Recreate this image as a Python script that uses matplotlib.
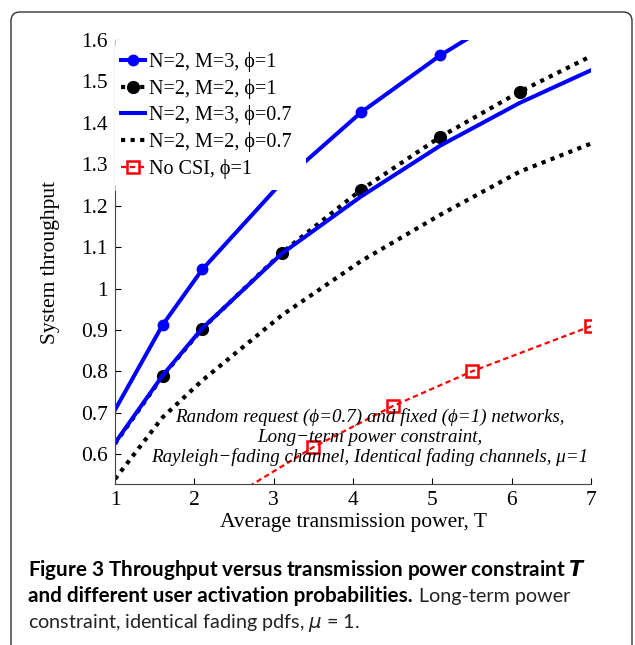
import matplotlib
matplotlib.use("Agg")
from matplotlib import pyplot as plt
from matplotlib.patches import FancyBboxPatch, Rectangle
import matplotlib.ticker as mticker

# transmission power values where the curves were computed
T = [1, 1.6, 2.1, 3.1, 4.1, 5.1, 6.1, 7]
m3_phi1 = [0.707, 0.912, 1.046, 1.256, 1.425, 1.563, 1.68, 1.78]
m2_phi1 = [0.625, 0.788, 0.903, 1.086, 1.238, 1.366, 1.475, 1.561]
m3_phi07 = [0.627, 0.790, 0.904, 1.084, 1.222, 1.345, 1.448, 1.527]
m2_phi07 = [0.540, 0.689, 0.778, 0.935, 1.066, 1.178, 1.282, 1.350]

T_nocsi = [2.5, 3.5, 4.5, 5.5, 7]
nocsi_phi1 = [0.50, 0.617, 0.716, 0.800, 0.909]

labels = ["N=2, M=3, \u03d5=1", "N=2, M=2, \u03d5=1", "N=2, M=3, \u03d5=0.7",
          "N=2, M=2, \u03d5=0.7", "No CSI, \u03d5=1"]
yticks = [0.6, 0.7, 0.8, 0.9, 1.0, 1.1, 1.2, 1.3, 1.4, 1.5, 1.6]

serif = ["Liberation Serif", "DejaVu Serif"]
plt.rcParams['font.family'] = serif
plt.rcParams['mathtext.fontset'] = 'dejavusans'

fig = plt.figure(figsize=(6.35, 6.45), dpi=100)
ax = fig.add_axes([115/635, 1-484/645, (591-115)/635, (484-40)/645])

mk = [1, 2, 3, 4, 5, 6]
ax.plot(T, m3_phi1, color='#0000ff', lw=2.9, marker='o', ms=7.5, markevery=mk, label=labels[0])
ax.plot(T, m2_phi1, color='black', lw=3, dashes=(1, 1.3), dash_capstyle='butt',
        marker='o', ms=8.5, markevery=mk, label=labels[1])
ax.plot(T, m3_phi07, color='#0000ff', lw=2.9, label=labels[2])
ax.plot(T, m2_phi07, color='black', lw=3, dashes=(1, 1.3), dash_capstyle='butt', label=labels[3])
ax.plot(T_nocsi, nocsi_phi1, color='red', lw=1.6, dashes=(2.4, 1.6), marker='s', ms=8,
        mfc='none', mew=1.8, label=labels[4])

ax.set_xlim(1, 7)
ax.set_ylim(0.528, 1.6)
ax.set_xticks(range(1, 8))
ax.set_yticks(yticks)
ax.yaxis.set_major_formatter(mticker.FormatStrFormatter('%g'))
ax.tick_params(direction='in', length=4, labelsize=15.5, width=0.8, pad=5)
for s in ['top', 'right']:
    ax.spines[s].set_visible(False)
for s in ['left', 'bottom']:
    ax.spines[s].set_color('#444444')

ax.set_xlabel("Average transmission power, T", fontsize=15.5, labelpad=2)
ax.set_ylabel("System throughput", fontsize=15.5, labelpad=15)

leg = ax.legend(loc='upper left', bbox_to_anchor=(0.0, 1.0 - 6/444), borderaxespad=0.0, fontsize=14.5,
                frameon=True, framealpha=1, edgecolor='none', fancybox=False,
                handlelength=1.2, handletextpad=0.2, labelspacing=0.33, borderpad=0.3)
# white block behind the legend, like the matlab legend box
ax.add_patch(Rectangle((0, 1 - 150/444), (306-115)/476, 150/444, transform=ax.transAxes,
                       facecolor='white', edgecolor='none', zorder=4, clip_on=False))
ax.plot([0, 0], [1 - 150/444, 1], transform=ax.transAxes, color='#bbbbbb', lw=0.6,
        zorder=4.5, clip_on=False)

ax.text(0.535, 0.105, "Random request (\u03d5=0.7) and fixed (\u03d5=1) networks,\n"
        "Long\u2212term power constraint,\n"
        "Rayleigh\u2212fading channel, Identical fading channels, \u03bc=1",
        transform=ax.transAxes, ha='center', va='center', multialignment='center',
        fontsize=13.7, style='italic', linespacing=1.2)

# rounded frame around the figure panel
frame = FancyBboxPatch((11/635, -0.05), (632-11)/635, (1-12/645)+0.05,
                       boxstyle="round,pad=0,rounding_size=0.014", transform=fig.transFigure,
                       fill=False, edgecolor='#333333', lw=1.0, clip_on=False)
fig.patches.append(frame)

# caption
cap = ["Lato", "DejaVu Sans"]
bsize = 14.9
rsize = 14.2
x0 = 28/635
fig.text(x0, 1-576/645, "Figure 3 Throughput versus transmission power constraint $\\mathbfit{T}$",
         family=cap, weight='bold', fontsize=bsize, va='baseline')
t2 = fig.text(x0, 1-602/645, "and different user activation probabilities.",
              family=cap, weight='bold', fontsize=bsize, va='baseline')
fig.text(x0, 1-628/645, "constraint, identical fading pdfs, $\\mu$ = 1.",
         family=cap, fontsize=rsize, color='#222222', va='baseline')
fig.canvas.draw()
bb = t2.get_window_extent(fig.canvas.get_renderer())
fig.text(bb.x1/fig.bbox.width + 6/635, 1-602/645, "Long-term power",
         family=cap, fontsize=rsize, color='#222222', va='baseline')

fig.savefig("out.png", dpi=100)
